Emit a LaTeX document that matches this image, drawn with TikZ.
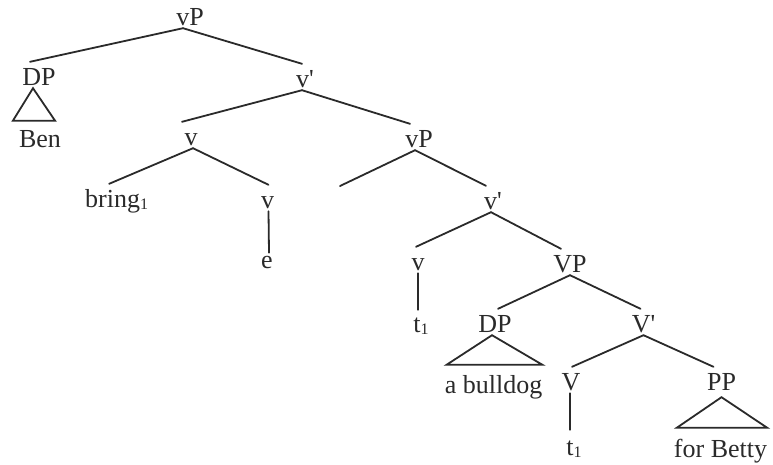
\documentclass[tikz,border=0pt]{standalone}
\usepackage{fontspec}
\setmainfont{Liberation Serif}
\definecolor{ink}{HTML}{2A2A2A}
\newcommand{\subone}{{\fontsize{16}{16}\selectfont\raisebox{-2pt}{1}}}
\begin{document}
\begin{tikzpicture}[x=1pt,y=-1pt,
  lbl/.style={anchor=base,inner sep=0pt,text height=23pt,text depth=3pt,
    font=\fontsize{26}{30}\selectfont,text=ink},
  leaf/.style={lbl,text height=27pt},
  br/.style={draw=ink,line width=1.8pt,line cap=round}]
\useasboundingbox (0,0) rectangle (773,464);
% nodes
\node[lbl] (vP0) at (190,25) {vP};
\node[lbl] (DP1) at (39,85) {DP};
\node[leaf,text height=26pt] (Ben) at (40,147) {Ben};
\node[lbl] (v1) at (305,87) {v\textquotesingle};
\node[lbl] (v2) at (191,145) {v};
\node[lbl,anchor=base west] (bring) at (85,207) {bring\subone};
\node[lbl] (v3) at (267.5,208) {v};
\node[lbl,text height=15pt] (e) at (267,268) {e};
\node[lbl] (vP2) at (419,147) {vP};
\coordinate (empty) at (340,186);
\node[lbl] (v4) at (493,209) {v\textquotesingle};
\node[lbl] (v5) at (418,270) {v};
\node[lbl,text height=22pt] (t1a) at (421,332) {t\subone};
\node[lbl] (VP) at (570,272) {VP};
\node[lbl] (DP2) at (495,332) {DP};
\node[leaf,text height=28pt] (bulldog) at (493.5,393) {a bulldog};
\node[lbl] (Vb) at (643.5,332) {V\textquotesingle};
\node[lbl] (V) at (571,390) {V};
\node[lbl,text height=25pt] (t1b) at (574,455) {t\subone};
\node[lbl,text depth=7pt] (PP) at (721.5,390) {PP};
\node[leaf,text height=29pt] (Betty) at (720.5,457) {for Betty};
% branches
\draw[br] ([xshift=-7pt]vP0.south) -- ([xshift=-9pt]DP1.north);
\draw[br] ([xshift=-7pt]vP0.south) -- ([xshift=-3pt]v1.north);
\draw[br,line join=miter] ([xshift=-6pt]DP1.south) -- ([xshift=-6pt]Ben.north west)
  -- ([xshift=-6pt]Ben.north east) -- cycle;
\draw[br] ([xshift=-3pt]v1.south) -- ([xshift=-9pt]v2.north);
\draw[br] ([xshift=-3pt]v1.south) -- ([xshift=-9pt]vP2.north);
\draw[br] ([xshift=2pt]v2.south) -- ([xshift=-7.5pt]bring.north);
\draw[br] ([xshift=2pt]v2.south) -- ([xshift=1pt]v3.north);
\draw[br] ([xshift=1pt]v3.south) -- ([xshift=2pt]e.north);
\draw[br] ([xshift=-4pt]vP2.south) -- (empty);
\draw[br] ([xshift=-4pt]vP2.south) -- ([xshift=-7pt]v4.north);
\draw[br] ([xshift=-2pt]v4.south) -- ([xshift=-2pt]v5.north);
\draw[br] ([xshift=-2pt]v4.south) -- ([xshift=-9pt]VP.north);
\draw[br] (v5.south) -- ([xshift=-3pt]t1a.north);
\draw[br] (VP.south) -- ([xshift=3pt]DP2.north);
\draw[br] (VP.south) -- ([xshift=-3pt]Vb.north);
\draw[br,line join=miter] ([xshift=-3pt]DP2.south) -- ([xshift=2pt]bulldog.north west)
  -- (bulldog.north east) -- cycle;
\draw[br] (Vb.south) -- ([xshift=1pt]V.north);
\draw[br] (Vb.south) -- ([xshift=-8pt]PP.north);
\draw[br] ([xshift=-1pt]V.south) -- ([xshift=-4pt]t1b.north);
\draw[br,line join=miter] (PP.south) -- ([xshift=3pt]Betty.north west)
  -- (Betty.north east) -- cycle;
\end{tikzpicture}
\end{document}
